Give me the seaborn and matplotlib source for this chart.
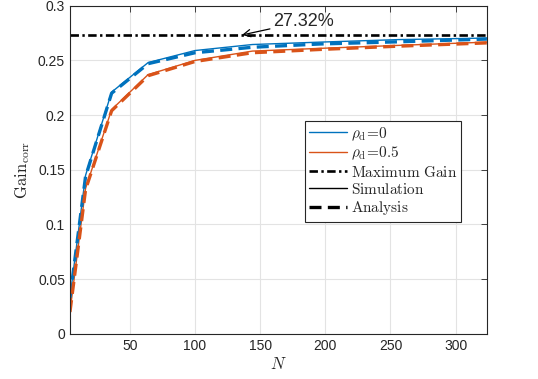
import matplotlib
matplotlib.use("Agg")
import matplotlib.pyplot as plt
from matplotlib.lines import Line2D
import numpy as np
import seaborn as sns

# data
N = [4, 16, 36, 64, 100, 144, 196, 256, 324]
sim_rho0 = [0.033, 0.145, 0.221, 0.248, 0.259, 0.2645, 0.2667, 0.269, 0.2704]
sim_rho05 = [0.020, 0.133, 0.205, 0.237, 0.250, 0.2585, 0.261, 0.2637, 0.2667]
ana_rho0 = [0.033, 0.144, 0.220, 0.247, 0.257, 0.262, 0.265, 0.267, 0.2695]
ana_rho05 = [0.020, 0.132, 0.204, 0.236, 0.249, 0.257, 0.260, 0.263, 0.266]
max_gain = 0.2732

BLUE = "#0072BD"
ORANGE = "#D95319"
ANA_LW = 2.4
ANA_DASH = [3.6, 1.9]
MAX_LW = 1.9
MAX_DASH = [3.2, 1.3, 0.9, 1.3]

sns.set_style("whitegrid", {"grid.color": "#e3e3e3", "axes.edgecolor": "#262626",
                            "xtick.direction": "in", "ytick.direction": "in"})
plt.rcParams["font.family"] = ["Liberation Sans", "DejaVu Sans"]
plt.rcParams["mathtext.fontset"] = "cm"

fig = plt.figure(figsize=(5.38, 3.79), dpi=100, facecolor="white")
ax = fig.add_axes([0.130, 0.119, 0.775, 0.866])

sns.lineplot(x=N, y=sim_rho0, ax=ax, color=BLUE, lw=1.0)
sns.lineplot(x=N, y=sim_rho05, ax=ax, color=ORANGE, lw=1.0)
sns.lineplot(x=N, y=ana_rho0, ax=ax, color=BLUE, lw=ANA_LW)
sns.lineplot(x=N, y=ana_rho05, ax=ax, color=ORANGE, lw=ANA_LW)
for ln in ax.lines[2:4]:
    ln.set_dashes(ANA_DASH)
ax.axhline(max_gain, color="black", lw=MAX_LW, dashes=MAX_DASH)

ax.annotate("27.32%", xy=(136, max_gain), xytext=(160, 0.2855),
            fontsize=13, va="center", ha="left",
            arrowprops=dict(arrowstyle="->", color="black", lw=0.9,
                            shrinkA=0, shrinkB=0))

ax.set_xlim(4, 324)
ax.set_ylim(0, 0.3)
ax.set_xticks([50, 100, 150, 200, 250, 300])
ax.set_yticks([0, 0.05, 0.1, 0.15, 0.2, 0.25, 0.3])
ax.set_yticklabels(["0", "0.05", "0.1", "0.15", "0.2", "0.25", "0.3"])
ax.tick_params(labelsize=10, colors="#262626", length=4, width=0.6,
               top=True, right=True, labeltop=False, labelright=False)
for s in ax.spines.values():
    s.set_linewidth(0.8)
    s.set_color("#262626")
ax.grid(True, color="#e3e3e3", lw=0.8)

ax.set_xlabel("$N$", fontsize=12, labelpad=2)
ax.set_ylabel(r"${\rm Gain}_{\rm corr}$", fontsize=12, labelpad=4)

handles = [
    Line2D([], [], color=BLUE, lw=1.0),
    Line2D([], [], color=ORANGE, lw=1.0),
    Line2D([], [], color="black", lw=MAX_LW, dashes=MAX_DASH),
    Line2D([], [], color="black", lw=1.0),
    Line2D([], [], color="black", lw=ANA_LW, dashes=ANA_DASH),
]
labels = [r"$\rho_{\rm d}\!=\!0$", r"$\rho_{\rm d}\!=\!0.5$",
          r"${\rm Maximum\ Gain}$", r"${\rm Simulation}$", r"${\rm Analysis}$"]
leg = ax.legend(handles, labels, loc="upper left", bbox_to_anchor=(0.563, 0.65),
                fontsize=11, handlelength=2.5, handletextpad=0.2,
                labelspacing=0.15, borderpad=0.3, borderaxespad=0,
                fancybox=False, framealpha=1, edgecolor="#262626")
leg.get_frame().set_linewidth(0.8)

fig.savefig("out.png", dpi=100, facecolor="white")
